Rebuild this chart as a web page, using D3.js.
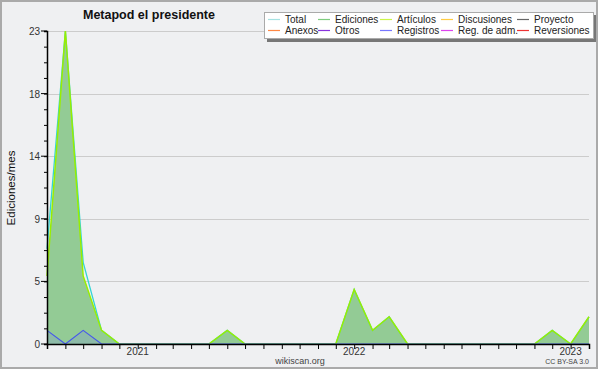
<!DOCTYPE html>
<html>
<head>
<meta charset="utf-8">
<script src="https://cdn.jsdelivr.net/npm/d3@7"></script>
<style>
  body { margin: 0; background: #fff; }
  svg { display: block; font-family: "Liberation Sans", Arial, sans-serif; }
</style>
</head>
<body>
<svg id="chart" width="600" height="370"></svg>
<script>
(function () {
    var width = 600, height = 370

    // monthly values, Aug 2020 .. Feb 2023
    const months = ["2020-08","2020-09","2020-10","2020-11","2020-12",
        "2021-01","2021-02","2021-03","2021-04","2021-05","2021-06","2021-07","2021-08","2021-09","2021-10","2021-11","2021-12",
        "2022-01","2022-02","2022-03","2022-04","2022-05","2022-06","2022-07","2022-08","2022-09","2022-10","2022-11","2022-12",
        "2023-01","2023-02"];
    const total     = [7,23,6,1,0, 0,0,0,0,0,1,0,0,0,0,0,0, 4,1,2,0,0,0,0,0,0,0,0,1, 0,2];
    const ediciones = [5,23,5,1,0, 0,0,0,0,0,1,0,0,0,0,0,0, 4,1,2,0,0,0,0,0,0,0,0,1, 0,2];
    const articulos = [5,23,5,1,0, 0,0,0,0,0,1,0,0,0,0,0,0, 4,1,2,0,0,0,0,0,0,0,0,1, 0,2];
    const registros = [1,0,1,0,0, 0,0,0,0,0,0,0,0,0,0,0,0, 0,0,0,0,0,0,0,0,0,0,0,0, 0,0];

    const yTicks = [0, 4.6, 9.2, 13.8, 18.4, 23];
    const yearTicks = ["2021-01", "2022-01", "2023-01"];

    const legendItems = [
        ["Total", "#a6e2e2"], ["Ediciones", "#7fcc7f"], ["Artículos", "#ccf54a"], ["Discusiones", "#ffcc44"], ["Proyecto", "#666666"],
        ["Anexos", "#ff8844"], ["Otros", "#8833dd"], ["Registros", "#7777ff"], ["Reg. de adm.", "#dd44ee"], ["Reversiones", "#ee3333"]
    ];

    const parse = d3.timeParse("%Y-%m");
    const dates = months.map(parse);

    const svg = d3.select("#chart");

    // background + frame
    svg.append("rect").attr("x", 1).attr("y", 1).attr("width", 596).attr("height", 367)
        .attr("fill", "#eff0f2").attr("stroke", "#aaaaaa").attr("stroke-width", 2);

    const x = d3.scaleTime().domain([dates[0], dates[dates.length - 1]]).range([47, 589]);
    const y = d3.scaleLinear().domain([0, 23]).range([344, 31]);

    // grid
    svg.append("g").selectAll("line").data(yTicks).join("line")
        .attr("x1", 47).attr("x2", 589)
        .attr("y1", d => Math.round(y(d)) + 0.5).attr("y2", d => Math.round(y(d)) + 0.5)
        .attr("stroke", "#cccccc");

    // ediciones area
    const area = d3.area().x((d, i) => x(dates[i])).y0(y(0)).y1(d => y(d));
    svg.append("path").datum(ediciones).attr("d", area).attr("fill", "#93cb95");

    // registros area
    svg.append("path").datum(registros).attr("d", area).attr("fill", "#7777ff").attr("opacity", 0.18);

    const line = d3.line().x((d, i) => x(dates[i])).y(d => y(d));
    svg.append("path").datum(total).attr("d", line)
        .attr("fill", "none").attr("stroke", "#33d4d4").attr("stroke-width", 1.3);
    svg.append("path").datum(articulos).attr("d", line)
        .attr("fill", "none").attr("stroke", "#99ee00").attr("stroke-width", 1.5);
    svg.append("path").datum(registros).attr("d", line)
        .attr("fill", "none").attr("stroke", "#4455ee").attr("stroke-width", 1.1);

    // x axis
    const xAxis = d3.axisBottom(x).tickValues(dates).tickSize(5).tickFormat("");
    const gx = svg.append("g").attr("transform", "translate(0,344)").call(xAxis);
    gx.select(".domain").attr("stroke", "#000").attr("stroke-width", 1.5);
    gx.selectAll(".tick line").attr("stroke", "#000");
    svg.append("g").selectAll("text").data(yearTicks).join("text")
        .attr("x", d => x(parse(d))).attr("y", 355)
        .attr("text-anchor", "middle").attr("font-size", "10px").attr("fill", "#333")
        .text(d => d.slice(0, 4));

    // y axis
    const gy = svg.append("g").attr("transform", "translate(47,0)")
        .call(d3.axisLeft(y).tickValues(d3.range(0, 23.01, 1.15)).tickSize(3).tickFormat(""));
    gy.select(".domain").attr("stroke", "#000").attr("stroke-width", 1.5);
    gy.selectAll(".tick line").attr("stroke", "#000");
    svg.append("g").selectAll("line").data(yTicks).join("line")
        .attr("x1", 41).attr("x2", 47).attr("y1", d => y(d)).attr("y2", d => y(d)).attr("stroke", "#000");
    svg.append("g").selectAll("text").data(yTicks).join("text")
        .attr("x", 40).attr("y", d => y(d) + 4)
        .attr("text-anchor", "end").attr("font-size", "10px").attr("fill", "#333")
        .text(d => Math.round(d));

    // titles
    svg.append("text").attr("x", 149).attr("y", 19).attr("text-anchor", "middle")
        .attr("font-size", "12.5px").attr("font-weight", "bold").attr("fill", "#111")
        .text("Metapod el presidente");
    svg.append("text").attr("transform", "translate(15,188) rotate(-90)").attr("text-anchor", "middle")
        .attr("font-size", "11.5px").attr("fill", "#111").text("Ediciones/mes");
    svg.append("text").attr("x", 300).attr("y", 364).attr("text-anchor", "middle")
        .attr("font-size", "9px").attr("fill", "#444").text("wikiscan.org");
    svg.append("text").attr("x", 589).attr("y", 364).attr("text-anchor", "end")
        .attr("font-size", "7px").attr("fill", "#444").text("CC BY-SA 3.0");

    // legend
    svg.append("rect").attr("x", 267).attr("y", 15).attr("width", 329).attr("height", 27).attr("fill", "#777");
    svg.append("rect").attr("x", 264.5).attr("y", 12.5).attr("width", 329).attr("height", 26)
        .attr("fill", "#fff").attr("stroke", "#aaa");
    const colX = [268, 318, 380, 441, 517];
    const leg = svg.append("g").selectAll("g").data(legendItems).join("g")
        .attr("transform", (d, i) => "translate(" + colX[i % 5] + "," + (i < 5 ? 19.5 : 30.5) + ")");
    leg.append("line").attr("x1", 0).attr("x2", 12).attr("stroke", d => d[1]).attr("stroke-width", 1.2);
    leg.append("text").attr("x", 17).attr("y", 3.5).attr("font-size", "10px").attr("fill", "#222")
        .text(d => d[0]);
})();
</script>
</body>
</html>
